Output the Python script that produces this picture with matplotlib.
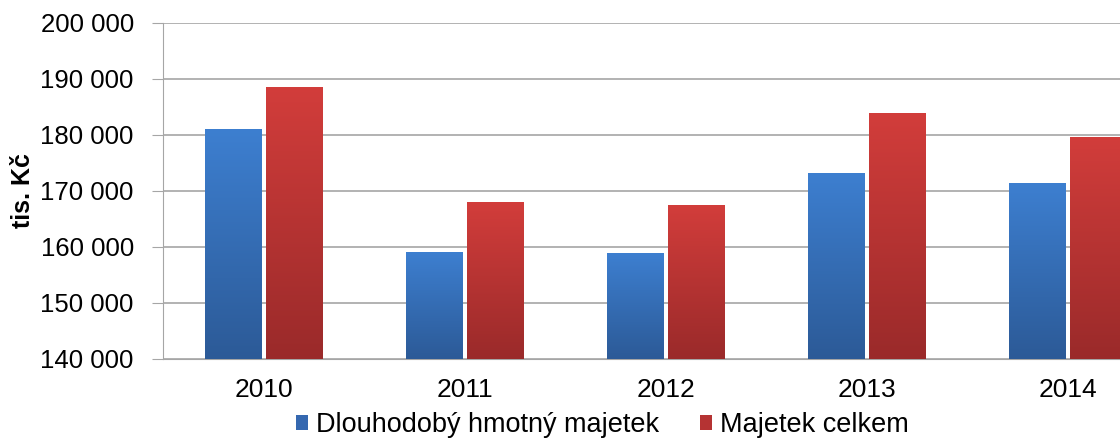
import numpy as np
import matplotlib
matplotlib.use('Agg')
from matplotlib import pyplot as plt
from matplotlib.colors import LinearSegmentedColormap
from matplotlib.patches import Patch
from matplotlib.ticker import FuncFormatter

years = ['2010', '2011', '2012', '2013', '2014']
dlouhodoby = [180900, 159100, 158900, 173200, 171400]
celkem = [188450, 167900, 167500, 183900, 179500]
series_names = ['Dlouhodobý hmotný majetek', 'Majetek celkem']

plt.rcParams['font.family'] = ['Liberation Sans', 'DejaVu Sans']

fig = plt.figure(figsize=(11.2, 4.41), dpi=100)
ax = fig.add_axes([163 / 1120, 82 / 441, 1005 / 1120, 336 / 441])

blue_cmap = LinearSegmentedColormap.from_list('b', ['#2C5A97', '#3D7FD0'])
red_cmap = LinearSegmentedColormap.from_list('r', ['#9A2A2A', '#D23D3B'])

x = np.arange(len(years))
width = 0.28
offset = 0.15
grad = np.linspace(0, 1, 256).reshape(-1, 1)

for vals, dx, cmap in [(dlouhodoby, -offset, blue_cmap), (celkem, offset, red_cmap)]:
    bars = ax.bar(x + dx, vals, width, bottom=0, color='none', zorder=3)
    for b in bars:
        x0 = b.get_x()
        ax.imshow(grad, cmap=cmap, origin='lower', aspect='auto', zorder=3,
                  extent=[x0, x0 + b.get_width(), 140000, b.get_height()])

ax.set_xlim(-0.5, 4.5)
ax.set_ylim(140000, 200000)
ax.set_yticks(np.arange(140000, 200001, 10000))
ax.yaxis.set_major_formatter(FuncFormatter(lambda v, p: f'{int(v):,}'.replace(',', ' ')))
ax.set_xticks(x)
ax.set_xticklabels(years)

ax.grid(axis='y', color='#A6A6A6', linewidth=1.2, zorder=0)
for s in ['top', 'right']:
    ax.spines[s].set_visible(False)
ax.spines['left'].set_color('#A6A6A6')
ax.spines['bottom'].set_color('#A6A6A6')
ax.tick_params(axis='y', length=8, color='#A6A6A6', labelsize=18.5, pad=13)
ax.tick_params(axis='x', length=0, labelsize=19, pad=14)

ax.set_ylabel('tis. Kč', fontsize=18, fontweight='bold', labelpad=4)

handles = [Patch(facecolor='#3568B0'), Patch(facecolor='#B53333')]
fig.legend(handles, series_names, loc='center', bbox_to_anchor=(0.538, 0.036),
           ncol=2, frameon=False, fontsize=19.5, handlelength=0.45, handleheight=0.45,
           handletextpad=0.3, columnspacing=1.5, borderpad=0.1)

plt.savefig('out.png')
